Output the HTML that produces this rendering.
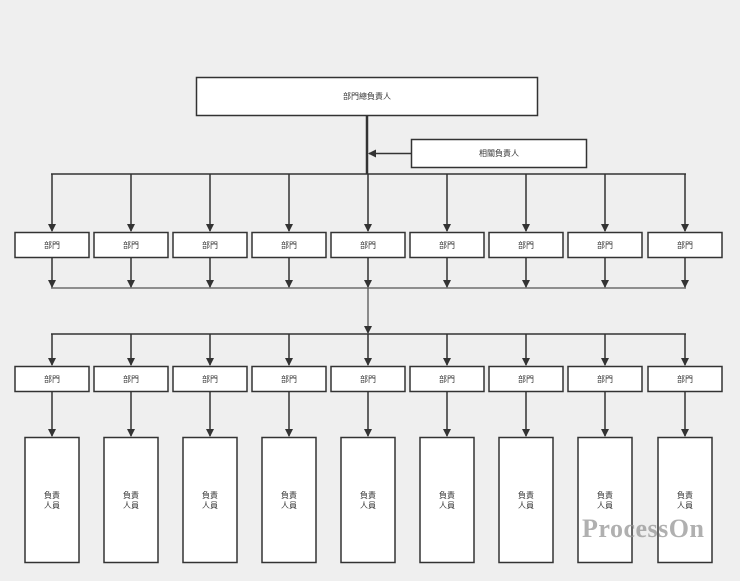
<!DOCTYPE html>
<html><head><meta charset="utf-8">
<style>
html,body{margin:0;padding:0;background:#efefef;}
svg{display:block}
text{font-family:"Liberation Sans","Noto Sans CJK TC",sans-serif;fill:#333;}
</style></head>
<body>
<svg width="740" height="581" viewBox="0 0 740 581" xmlns="http://www.w3.org/2000/svg">
<defs>
<marker id="a" markerWidth="8" markerHeight="8" refX="7" refY="4" orient="auto" markerUnits="userSpaceOnUse">
<path d="M0,0 L8,4 L0,8 Z" fill="#333"/>
</marker>
</defs>
<rect width="740" height="581" fill="#efefef"/>
<!-- top -->
<rect x="196.5" y="77.5" width="341" height="38" fill="#fff" stroke="#333" stroke-width="1.5"/>
<text x="367" y="99" font-size="8" text-anchor="middle">部門總負責人</text>
<line x1="367" y1="115" x2="367" y2="174" stroke="#333" stroke-width="2.5"/>
<rect x="411.5" y="139.5" width="175" height="28" fill="#fff" stroke="#333" stroke-width="1.5"/>
<text x="499" y="156" font-size="8" text-anchor="middle">相關負責人</text>
<line x1="411" y1="153.5" x2="369" y2="153.5" stroke="#333" stroke-width="1.5" marker-end="url(#a)"/>
<line x1="51" y1="174" x2="686" y2="174" stroke="#333" stroke-width="1.5"/>
<line x1="51" y1="288" x2="686" y2="288" stroke="#555" stroke-width="1.3"/>
<line x1="368" y1="288" x2="368" y2="333" stroke="#555" stroke-width="1.3" marker-end="url(#a)"/>
<line x1="51" y1="334" x2="686" y2="334" stroke="#333" stroke-width="1.5"/>
<g id="cols" stroke="#333" stroke-width="1.5"></g>
</svg>
<script>
var cs=[52,131,210,289,368,447,526,605,685];
var g=document.getElementById('cols'),ns='http://www.w3.org/2000/svg',s='';
cs.forEach(function(c){
s+='<line x1="'+c+'" y1="174" x2="'+c+'" y2="231" marker-end="url(#a)"/>';
s+='<rect x="'+(c-37)+'" y="232.5" width="74" height="25" fill="#fff"/>';
s+='<text x="'+c+'" y="248" font-size="8" text-anchor="middle" stroke="none">部門</text>';
s+='<line x1="'+c+'" y1="257" x2="'+c+'" y2="287" marker-end="url(#a)"/>';
s+='<line x1="'+c+'" y1="334" x2="'+c+'" y2="365" marker-end="url(#a)"/>';
s+='<rect x="'+(c-37)+'" y="366.5" width="74" height="25" fill="#fff"/>';
s+='<text x="'+c+'" y="382" font-size="8" text-anchor="middle" stroke="none">部門</text>';
s+='<line x1="'+c+'" y1="391" x2="'+c+'" y2="436" marker-end="url(#a)"/>';
s+='<rect x="'+(c-27)+'" y="437.5" width="54" height="125" fill="#fff"/>';
s+='<text x="'+c+'" y="498" font-size="8" text-anchor="middle" stroke="none">負責</text>';
s+='<text x="'+c+'" y="508" font-size="8" text-anchor="middle" stroke="none">人員</text>';
});
g.innerHTML=s;
</script>
<div style="position:absolute;left:582px;top:514px;font-family:'Liberation Serif',serif;font-weight:bold;font-size:26px;color:rgba(150,150,150,0.75);letter-spacing:0.5px;">ProcessOn</div>
</body></html>
